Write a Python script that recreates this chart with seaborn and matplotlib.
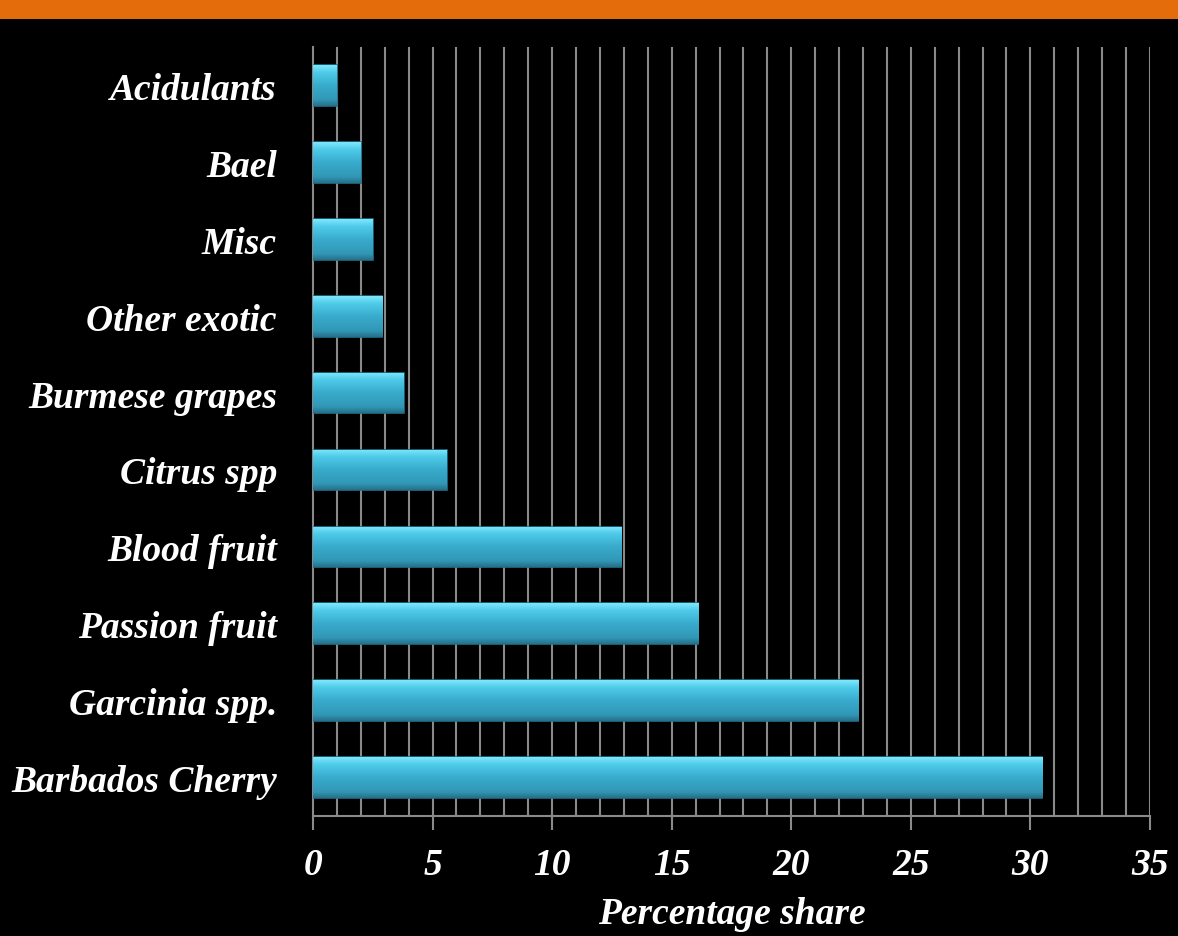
import matplotlib
matplotlib.use("Agg")
import matplotlib.pyplot as plt
import seaborn as sns
import numpy as np
import pandas as pd
from matplotlib.patches import Rectangle
from matplotlib.colors import LinearSegmentedColormap

categories = ["Acidulants", "Bael", "Misc", "Other exotic", "Burmese grapes",
              "Citrus spp", "Blood fruit", "Passion fruit", "Garcinia spp.", "Barbados Cherry"]
values = [1.0, 2.0, 2.5, 2.9, 3.8, 5.6, 12.9, 16.1, 22.8, 30.5]
xticks = [0, 5, 10, 15, 20, 25, 30, 35]
xlabel = "Percentage share"

sns.set_theme(style="dark")
plt.rcParams['font.family'] = ['Liberation Serif', 'DejaVu Serif']

df = pd.DataFrame({"cat": categories, "val": values})

fig = plt.figure(figsize=(11.78, 9.37), dpi=100, facecolor="black")
ax = fig.add_axes([0.2657, 0.128, 0.9762 - 0.2657, 0.9488 - 0.128])
ax.set_facecolor("black")

sns.barplot(data=df, x="val", y="cat", order=categories, orient="h",
            color="#38aed0", width=0.53, ax=ax, edgecolor="#1f6f88", linewidth=1.2, zorder=3)

cmap = LinearSegmentedColormap.from_list("bar", [(0, "#7fe8fc"), (0.18, "#4fcbea"),
                                                 (0.5, "#38abcc"), (0.85, "#3297b6"),
                                                 (1.0, "#266f86")])
grad = np.linspace(0, 1, 256).reshape(-1, 1)
for p in ax.patches:
    x0, y0 = p.get_x(), p.get_y()
    w, h = p.get_width(), p.get_height()
    im = ax.imshow(grad, cmap=cmap, aspect="auto", extent=[x0, x0 + w, y0 + h, y0],
                   zorder=3.5, interpolation="bicubic")
    im.set_clip_path(p)

ax.set_xlim(0, 35)
ax.set_ylim(9.5, -0.5)
ax.set_xticks(xticks)
ax.grid(False)
for xv in np.arange(1, 36, 1):
    ax.axvline(xv, color="#8a8a8a", lw=1.5, zorder=1)

ax.tick_params(axis="x", which="major", bottom=True, direction="out", length=10, width=1.5,
               color="#8a8a8a", pad=12, labelsize=27, labelcolor="white")
ax.tick_params(axis="y", left=False, length=0, pad=26, labelsize=27, labelcolor="white")
for lab in ax.get_xticklabels() + ax.get_yticklabels():
    lab.set_fontweight("bold")
    lab.set_fontstyle("italic")

ax.set_ylabel("")
ax.set_xlabel(xlabel, fontsize=27, fontweight="bold", fontstyle="italic", color="white", labelpad=10)

for s in ["top", "right"]:
    ax.spines[s].set_visible(False)
for s in ["left", "bottom"]:
    ax.spines[s].set_visible(True)
    ax.spines[s].set_color("#8a8a8a")
    ax.spines[s].set_linewidth(1.5)

fig.patches.append(Rectangle((0, 1 - 20 / 937), 1, 20 / 937, transform=fig.transFigure,
                             facecolor="#e46c0a", edgecolor="none", zorder=10))

fig.savefig("out.png", dpi=100, facecolor="black")
